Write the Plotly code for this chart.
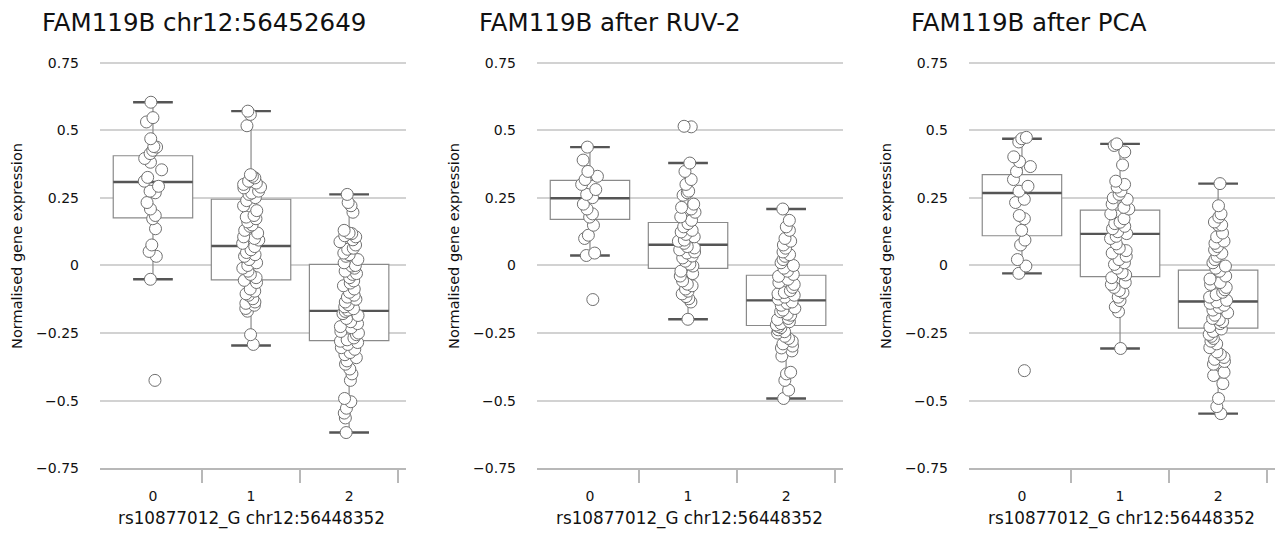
import plotly.graph_objects as go

W, H = 1278, 535

# ---------------- data ----------------
genotypes = [0, 1, 2]
tick_labels = ["0", "1", "2"]

titles = ["FAM119B chr12:56452649", "FAM119B after RUV-2", "FAM119B after PCA"]
x_title = "rs10877012_G chr12:56448352"
y_title = "Normalised gene expression"

y_ticks = [-0.75, -0.5, -0.25, 0, 0.25, 0.5, 0.75]
y_ticktext = ["\u22120.75", "\u22120.5", "\u22120.25", "0", "0.25", "0.5", "0.75"]

# Panel 1: raw
p1_g0 = [0.604, 0.547, 0.531, 0.469, 0.440, 0.438, 0.426, 0.414, 0.396, 0.382, 0.354,
         0.326, 0.312, 0.293, 0.275, 0.269, 0.233, 0.209, 0.185, 0.173, 0.136, 0.076,
         0.052, 0.034, -0.051, -0.425]
p1_g1 = [0.571, 0.559, 0.517, 0.336, 0.330, 0.324, 0.312, 0.305, 0.300, 0.290, 0.287,
         0.275, 0.268, 0.263, 0.251, 0.240, 0.221, 0.203, 0.185, 0.179, 0.173, 0.161,
         0.150, 0.145, 0.130, 0.120, 0.106, 0.100, 0.094, 0.082, 0.070, 0.058, 0.048,
         0.040, 0.034, 0.022, 0.010, 0.000, -0.010, -0.021, -0.033, -0.045, -0.055,
         -0.063, -0.087, -0.095, -0.105, -0.110, -0.123, -0.135, -0.140, -0.147, -0.159,
         -0.169, -0.256, -0.292]
p1_g2 = [0.263, 0.233, 0.221, 0.197, 0.130, 0.120, 0.118, 0.110, 0.106, 0.095, 0.088,
         0.076, 0.064, 0.060, 0.046, 0.040, 0.034, 0.022, 0.010, 0.000, -0.002, -0.010,
         -0.021, -0.030, -0.033, -0.045, -0.057, -0.065, -0.075, -0.087, -0.099, -0.110,
         -0.117, -0.125, -0.135, -0.145, -0.153, -0.160, -0.165, -0.170, -0.178, -0.185,
         -0.196, -0.208, -0.215, -0.226, -0.230, -0.244, -0.250, -0.256, -0.268, -0.275,
         -0.280, -0.285, -0.292, -0.304, -0.310, -0.322, -0.330, -0.341, -0.353, -0.365,
         -0.383, -0.401, -0.425, -0.492, -0.504, -0.528, -0.546, -0.564, -0.618]
p1_q1 = [0.176, -0.053, -0.278]
p1_med = [0.309, 0.072, -0.168]
p1_q3 = [0.406, 0.245, 0.004]
p1_lo = [-0.051, -0.296, -0.618]
p1_hi = [0.604, 0.571, 0.263]

# Panel 2: after RUV-2
p2_g0 = [0.438, 0.390, 0.348, 0.330, 0.318, 0.300, 0.281, 0.263, 0.251, 0.227, 0.209,
         0.191, 0.179, 0.149, 0.112, 0.100, 0.046, 0.037, -0.126]
p2_g1 = [0.513, 0.515, 0.379, 0.348, 0.318, 0.300, 0.275, 0.269, 0.260, 0.227, 0.215,
         0.209, 0.197, 0.180, 0.167, 0.155, 0.143, 0.130, 0.124, 0.115, 0.106, 0.094,
         0.090, 0.082, 0.070, 0.065, 0.058, 0.050, 0.046, 0.035, 0.028, 0.016, 0.005,
         -0.002, -0.021, -0.030, -0.039, -0.057, -0.069, -0.075, -0.087, -0.095, -0.105,
         -0.115, -0.123, -0.135, -0.199]
p2_g2 = [0.209, 0.167, 0.143, 0.130, 0.100, 0.090, 0.076, 0.064, 0.050, 0.040, 0.034,
         0.022, 0.010, 0.000, -0.010, -0.021, -0.033, -0.040, -0.051, -0.063, -0.070,
         -0.081, -0.093, -0.100, -0.105, -0.110, -0.117, -0.125, -0.135, -0.140, -0.147,
         -0.159, -0.165, -0.171, -0.180, -0.184, -0.196, -0.200, -0.208, -0.215, -0.220,
         -0.226, -0.230, -0.238, -0.245, -0.250, -0.262, -0.270, -0.280, -0.290, -0.298,
         -0.305, -0.316, -0.335, -0.395, -0.401, -0.425, -0.461, -0.492]
p2_q1 = [0.171, -0.011, -0.222]
p2_med = [0.249, 0.077, -0.129]
p2_q3 = [0.315, 0.159, -0.036]
p2_lo = [0.037, -0.199, -0.492]
p2_hi = [0.438, 0.379, 0.209]

# Panel 3: after PCA
p3_g0 = [0.469, 0.474, 0.457, 0.402, 0.384, 0.366, 0.348, 0.318, 0.293, 0.275, 0.245,
         0.233, 0.185, 0.173, 0.130, 0.094, 0.076, 0.022, -0.002, -0.029, -0.389]
p3_g1 = [0.450, 0.444, 0.420, 0.372, 0.312, 0.300, 0.290, 0.275, 0.263, 0.250, 0.245,
         0.227, 0.215, 0.209, 0.191, 0.173, 0.160, 0.155, 0.145, 0.136, 0.125, 0.118,
         0.108, 0.100, 0.080, 0.064, 0.055, 0.046, 0.034, 0.022, 0.010, 0.004, -0.010,
         -0.027, -0.035, -0.045, -0.063, -0.070, -0.081, -0.093, -0.100, -0.117, -0.130,
         -0.153, -0.171, -0.307]
p3_g2 = [0.303, 0.221, 0.191, 0.179, 0.161, 0.150, 0.149, 0.120, 0.106, 0.090, 0.082,
         0.070, 0.058, 0.045, 0.034, 0.022, 0.010, -0.002, -0.010, -0.021, -0.039,
         -0.050, -0.063, -0.070, -0.081, -0.090, -0.099, -0.108, -0.117, -0.129, -0.135,
         -0.140, -0.147, -0.155, -0.165, -0.175, -0.184, -0.196, -0.200, -0.208, -0.215,
         -0.226, -0.235, -0.244, -0.255, -0.262, -0.270, -0.280, -0.290, -0.304, -0.320,
         -0.329, -0.340, -0.347, -0.355, -0.365, -0.395, -0.407, -0.437, -0.492, -0.522,
         -0.548]
p3_q1 = [0.110, -0.041, -0.232]
p3_med = [0.268, 0.117, -0.133]
p3_q3 = [0.336, 0.205, -0.017]
p3_lo = [-0.029, -0.307, -0.548]
p3_hi = [0.469, 0.450, 0.303]

panels = [
    dict(groups=[p1_g0, p1_g1, p1_g2], q1=p1_q1, med=p1_med, q3=p1_q3, lo=p1_lo, hi=p1_hi),
    dict(groups=[p2_g0, p2_g1, p2_g2], q1=p2_q1, med=p2_med, q3=p2_q3, lo=p2_lo, hi=p2_hi),
    dict(groups=[p3_g0, p3_g1, p3_g2], q1=p3_q1, med=p3_med, q3=p3_q3, lo=p3_lo, hi=p3_hi),
]

# ---------------- styling / layout ----------------
FONT = "DejaVu Sans"
BOX_W = 0.81
GRID = "#d2d2d2"
AXIS = "#b8b8b8"
DARK = "#555555"
BOXLINE = "#8a8a8a"

plot_left_px = [100, 537, 969]
plot_w_px = 306
y_bot_px, y_top_px = 475, 55.5
x_range = [-0.54, 2.58]
y_range = [-0.75, 0.77]

fig = go.Figure()

for i, p in enumerate(panels):
    n = "" if i == 0 else str(i + 1)
    xa, ya = "x" + n, "y" + n
    # box outline + whiskers
    fig.add_trace(go.Box(
        x=genotypes, q1=p["q1"], median=p["med"], q3=p["q3"],
        lowerfence=p["lo"], upperfence=p["hi"],
        width=BOX_W, whiskerwidth=0, boxpoints=False,
        line=dict(color=BOXLINE, width=1.2), fillcolor="white",
        xaxis=xa, yaxis=ya, showlegend=False, hoverinfo="skip"))
    # dark median line
    fig.add_trace(go.Box(
        x=genotypes, q1=p["med"], median=p["med"], q3=p["med"],
        lowerfence=p["med"], upperfence=p["med"],
        width=BOX_W, whiskerwidth=0, boxpoints=False,
        line=dict(color=DARK, width=2.4), fillcolor="rgba(0,0,0,0)",
        xaxis=xa, yaxis=ya, showlegend=False, hoverinfo="skip"))
    # dark whisker caps
    for key in ("hi", "lo"):
        fig.add_trace(go.Box(
            x=genotypes, q1=p[key], median=p[key], q3=p[key],
            lowerfence=p[key], upperfence=p[key],
            width=BOX_W / 2, whiskerwidth=0, boxpoints=False,
            line=dict(color=DARK, width=2.4), fillcolor="rgba(0,0,0,0)",
            xaxis=xa, yaxis=ya, showlegend=False, hoverinfo="skip"))
    # jittered sample points
    xs, ys = [], []
    for g, vals in zip(genotypes, p["groups"]):
        xs += [g] * len(vals)
        ys += vals
    fig.add_trace(go.Box(
        x=xs, y=ys, width=BOX_W, boxpoints="all", jitter=0.25, pointpos=0,
        line=dict(color="rgba(0,0,0,0)", width=0), fillcolor="rgba(0,0,0,0)",
        marker=dict(size=12, color="white", line=dict(color="#707070", width=1)),
        xaxis=xa, yaxis=ya, showlegend=False, hoverinfo="skip"))

    x0 = plot_left_px[i] / W
    x1 = (plot_left_px[i] + plot_w_px) / W
    fig.layout["xaxis" + n] = dict(
        domain=[x0, x1], range=x_range, anchor=ya,
        tickmode="array", tickvals=genotypes, ticktext=tick_labels,
        ticks="", showgrid=False, zeroline=False,
        showline=True, linecolor=AXIS, linewidth=1.5,
        minor=dict(tickmode="array", tickvals=[0.5, 1.5, 2.5], ticks="outside",
                   ticklen=13, tickcolor=AXIS, tickwidth=1.5, showgrid=False),
        tickfont=dict(family=FONT, size=14, color="#111"),
        ticklabelstandoff=14, fixedrange=True)
    fig.layout["yaxis" + n] = dict(
        domain=[1 - y_bot_px / H, 1 - y_top_px / H], range=y_range, anchor=xa,
        tickmode="array", tickvals=y_ticks, ticktext=y_ticktext,
        ticks="", showgrid=True, gridcolor=GRID, gridwidth=1.5,
        zeroline=False, showline=False,
        tickfont=dict(family=FONT, size=14, color="#111"),
        ticklabelstandoff=20, fixedrange=True)

    fig.add_annotation(text=titles[i], xref="paper", yref="paper",
                       x=(plot_left_px[i] - 60) / W, y=1 - 20 / H,
                       xanchor="left", yanchor="middle", showarrow=False,
                       font=dict(family=FONT, size=24.5, color="#111"))
    fig.add_annotation(text=y_title, xref="paper", yref="paper",
                       x=(plot_left_px[i] - 83) / W, y=1 - 248 / H,
                       xanchor="center", yanchor="middle", textangle=-90,
                       showarrow=False, font=dict(family=FONT, size=14.5, color="#111"))
    fig.add_annotation(text=x_title, xref="paper", yref="paper",
                       x=(plot_left_px[i] + 152) / W, y=1 - 526 / H,
                       xanchor="center", yanchor="middle", showarrow=False,
                       font=dict(family=FONT, size=16.8, color="#111"))

fig.update_layout(
    width=W, height=H, margin=dict(l=0, r=0, t=0, b=0),
    paper_bgcolor="white", plot_bgcolor="white",
    boxmode="overlay", showlegend=False,
    font=dict(family=FONT, color="#111"),
)

fig.write_html("out.html", post_script="document.body.style.margin='0';",
               config={"displayModeBar": False})
